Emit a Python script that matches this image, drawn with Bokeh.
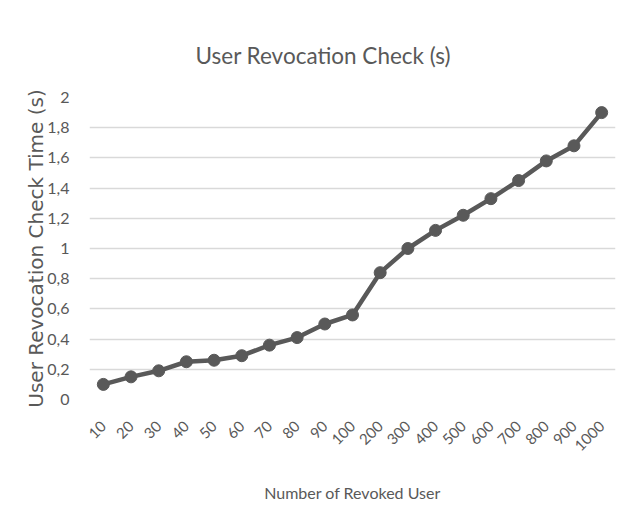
from bokeh.plotting import figure
from bokeh.models import FactorRange, Range1d, FixedTicker, CustomJSTickFormatter, ColumnDataSource
from bokeh.embed import file_html
from bokeh.resources import INLINE
import math

categories = ["10", "20", "30", "40", "50", "60", "70", "80", "90", "100",
              "200", "300", "400", "500", "600", "700", "800", "900", "1000"]
times = [0.10, 0.15, 0.19, 0.25, 0.26, 0.29, 0.36, 0.41, 0.50, 0.56,
         0.84, 1.00, 1.12, 1.22, 1.33, 1.45, 1.58, 1.68, 1.90]
y_ticks = [0, 0.2, 0.4, 0.6, 0.8, 1.0, 1.2, 1.4, 1.6, 1.8, 2.0]

src = ColumnDataSource(dict(x=categories, y=times))

GRAY = "#595959"
TFONT = "Lato"

p = figure(width=627, height=525, x_range=FactorRange(factors=categories, range_padding=0),
           y_range=Range1d(0, 2), output_backend="svg", toolbar_location=None,
           title="User Revocation Check (s)",
           min_border_left=89, min_border_right=12, min_border_top=97, min_border_bottom=126)

p.title.align = "left"
p.title.offset = 106
p.title.text_font = TFONT
p.title.text_font_size = "22.5px"
p.title.text_font_style = "normal"
p.title.text_color = GRAY
p.title.standoff = 57

p.outline_line_color = None
p.background_fill_color = "white"
p.border_fill_color = "white"

p.xgrid.grid_line_color = None
p.ygrid.grid_line_color = "#d9d9d9"
p.ygrid.grid_line_width = 1.3

p.yaxis.ticker = FixedTicker(ticks=y_ticks)
p.yaxis.formatter = CustomJSTickFormatter(code="""
var s = tick.toFixed(1).replace('.', ',');
if (s.endsWith(',0')) { s = s.slice(0, -2); }
return s;
""")

for ax in (p.xaxis, p.yaxis):
    ax.axis_line_color = None
    ax.major_tick_line_color = None
    ax.minor_tick_line_color = None
    ax.major_label_text_color = GRAY
    ax.axis_label_text_color = GRAY
    ax.axis_label_text_font_style = "normal"

p.yaxis.major_label_text_font = TFONT
p.yaxis.major_label_text_font_size = "16px"
p.yaxis.major_label_standoff = 14
p.yaxis.axis_label = "User Revocation Check Time (s)"
p.yaxis.axis_label_text_font = "DejaVu Sans"
p.yaxis.axis_label_text_font_size = "20px"
p.yaxis.axis_label_standoff = -4

p.xaxis.major_label_orientation = math.pi / 4
p.xaxis.major_label_text_font = TFONT
p.xaxis.major_label_text_font_size = "15px"
p.xaxis.major_label_standoff = 18
p.xaxis.axis_label = "Number of Revoked User"
p.xaxis.axis_label_text_font = TFONT
p.xaxis.axis_label_text_font_size = "16px"
p.xaxis.axis_label_standoff = 24

p.line("x", "y", source=src, line_color=GRAY, line_width=4.5)
p.scatter("x", "y", source=src, size=12, fill_color=GRAY, line_color=GRAY)

open("out.html", "w").write(file_html(p, INLINE))
